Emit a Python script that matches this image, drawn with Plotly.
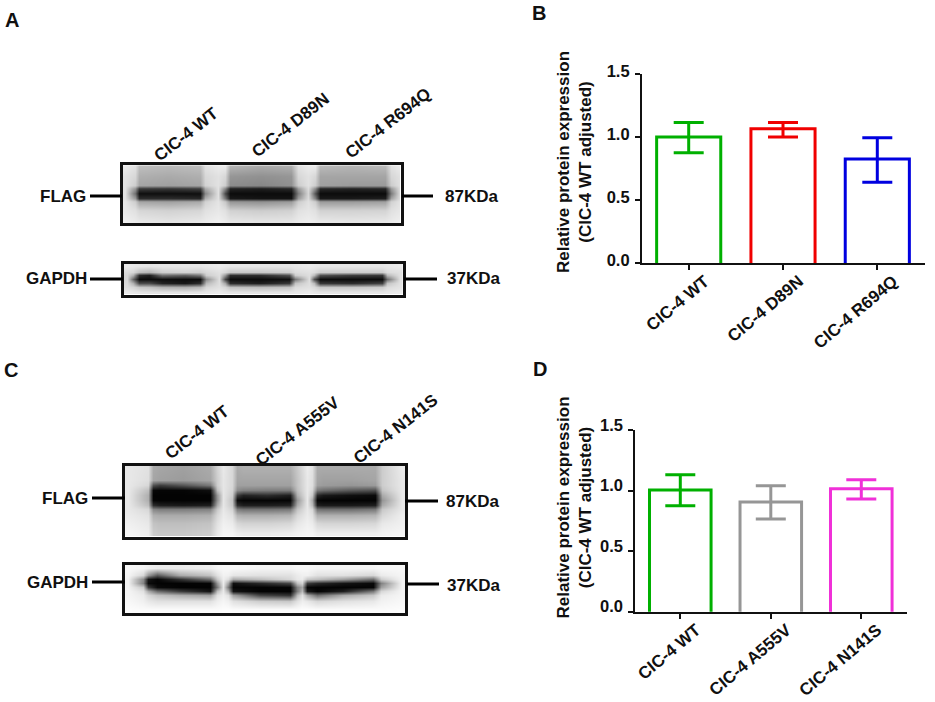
import plotly.graph_objects as go

W, H = 935, 702
FONT = "Liberation Sans"

# ---------- bar data ----------
cats_b = ["CIC-4 WT", "CIC-4 D89N", "CIC-4 R694Q"]
vals_b = [1.0, 1.065, 0.825]
hi_b = [1.115, 1.115, 0.995]
lo_b = [0.875, 1.0, 0.64]
cols_b = ["#00b000", "#f00000", "#0000e0"]

cats_d = ["CIC-4 WT", "CIC-4 A555V", "CIC-4 N141S"]
vals_d = [1.005, 0.905, 1.015]
hi_d = [1.13, 1.04, 1.09]
lo_d = [0.875, 0.765, 0.93]
cols_d = ["#00b000", "#969696", "#f030d8"]

y_ticks = [0.0, 0.5, 1.0, 1.5]
y_title = "Relative protein expression<br>(CIC-4 WT adjusted)"

# ---------- blot grey levels ----------
a_flag_x = [20, 50, 62, 150, 245, 262, 300, 320, 335, 430, 520, 540, 570, 590, 605, 700, 800, 818, 845]
a_flag_y = [20, 50, 75, 86, 100, 114, 125, 150, 185]
a_flag_z = [
    [235, 225, 190, 185, 190, 225, 235, 235, 180, 170, 175, 225, 235, 235, 185, 180, 185, 225, 235],
    [225, 215, 175, 170, 175, 215, 225, 215, 150, 145, 150, 215, 225, 215, 165, 165, 165, 215, 225],
    [225, 205, 165, 160, 165, 210, 225, 205, 140, 135, 145, 205, 225, 205, 160, 155, 155, 205, 225],
    [225, 150, 60, 55, 65, 170, 225, 135, 35, 30, 40, 155, 220, 140, 40, 35, 40, 155, 225],
    [225, 110, 15, 15, 15, 135, 225, 75, 12, 12, 12, 125, 215, 85, 12, 12, 12, 125, 225],
    [225, 155, 45, 45, 40, 175, 225, 120, 25, 20, 20, 155, 220, 130, 25, 25, 30, 165, 225],
    [230, 205, 165, 160, 170, 210, 228, 200, 150, 145, 155, 205, 225, 205, 155, 155, 160, 210, 228],
    [232, 225, 215, 210, 215, 225, 232, 225, 210, 205, 210, 225, 230, 225, 210, 210, 212, 225, 232],
    [240, 235, 232, 228, 232, 235, 240, 235, 230, 228, 230, 235, 238, 235, 232, 230, 232, 235, 240],
]

a_gapdh_x = [25, 42, 60, 90, 130, 200, 245, 262, 300, 318, 335, 420, 510, 530, 570, 585, 605, 700, 790, 805, 845]
a_gapdh_y = [22, 40, 50, 62, 74, 85, 100]
a_gapdh_z = [
    [235, 232, 230, 228, 230, 230, 230, 232, 235, 232, 230, 230, 230, 232, 235, 232, 230, 230, 230, 232, 235],
    [220, 215, 190, 180, 205, 210, 205, 215, 225, 215, 200, 200, 205, 220, 225, 220, 205, 205, 205, 220, 225],
    [215, 175, 45, 30, 110, 95, 120, 205, 222, 150, 45, 45, 80, 205, 222, 185, 80, 60, 55, 185, 225],
    [215, 100, 12, 12, 15, 12, 12, 140, 222, 70, 12, 12, 15, 120, 222, 80, 12, 12, 12, 110, 225],
    [218, 175, 75, 75, 35, 22, 45, 185, 222, 165, 45, 30, 55, 195, 222, 185, 55, 45, 65, 195, 225],
    [222, 215, 200, 195, 180, 175, 185, 215, 225, 215, 195, 190, 195, 220, 225, 218, 200, 200, 205, 220, 228],
    [235, 232, 230, 228, 228, 228, 230, 232, 236, 232, 230, 230, 230, 232, 236, 232, 230, 230, 230, 232, 236],
]

c_flag_x = [25, 85, 100, 120, 190, 270, 290, 310, 335, 350, 370, 440, 510, 530, 560, 575, 590, 610, 690, 765, 785, 845]
c_flag_y = [25, 60, 75, 90, 105, 120, 135, 148, 165, 190, 220]
c_flag_z = [
    [232, 225, 170, 165, 160, 170, 210, 232, 215, 170, 175, 175, 175, 200, 235, 225, 170, 170, 170, 170, 205, 235],
    [232, 222, 165, 160, 155, 165, 205, 230, 215, 165, 165, 165, 165, 195, 232, 222, 165, 160, 160, 165, 205, 232],
    [232, 215, 80, 60, 85, 120, 205, 230, 215, 160, 160, 160, 160, 195, 232, 222, 160, 155, 150, 155, 205, 232],
    [232, 190, 8, 5, 5, 15, 190, 230, 212, 140, 130, 125, 125, 190, 232, 215, 120, 110, 90, 80, 195, 232],
    [232, 175, 3, 3, 3, 3, 150, 230, 205, 60, 35, 45, 30, 175, 232, 200, 40, 25, 15, 10, 170, 232],
    [232, 175, 5, 3, 3, 3, 145, 230, 195, 10, 5, 5, 5, 150, 232, 170, 5, 3, 3, 3, 150, 232],
    [232, 190, 45, 30, 25, 30, 170, 230, 200, 45, 30, 30, 35, 170, 232, 185, 30, 25, 25, 30, 170, 232],
    [232, 215, 135, 125, 125, 130, 200, 232, 212, 125, 115, 115, 120, 195, 232, 215, 115, 110, 110, 120, 200, 232],
    [235, 225, 175, 170, 170, 175, 215, 235, 225, 180, 175, 175, 180, 215, 235, 225, 175, 175, 175, 180, 215, 238],
    [240, 232, 195, 190, 190, 195, 225, 240, 235, 215, 210, 210, 215, 230, 240, 235, 215, 212, 212, 215, 232, 240],
    [245, 238, 205, 200, 200, 205, 232, 245, 245, 238, 235, 235, 238, 242, 245, 245, 238, 238, 238, 238, 242, 245],
]

c_gapdh_x = [25, 70, 85, 110, 180, 270, 290, 310, 325, 340, 420, 510, 530, 545, 562, 590, 670, 760, 782, 845]
c_gapdh_y = [25, 45, 58, 70, 82, 95, 108, 125, 150]
c_gapdh_z = [
    [248, 245, 240, 235, 235, 238, 245, 248, 248, 248, 245, 245, 248, 248, 248, 245, 245, 245, 248, 248],
    [245, 215, 150, 90, 170, 195, 225, 242, 240, 230, 225, 225, 235, 240, 240, 225, 225, 215, 235, 245],
    [242, 140, 20, 5, 50, 110, 200, 238, 222, 170, 190, 215, 232, 235, 200, 190, 160, 110, 205, 245],
    [242, 130, 10, 3, 3, 5, 150, 235, 165, 15, 40, 70, 190, 210, 60, 40, 20, 8, 130, 245],
    [242, 200, 60, 10, 3, 3, 120, 230, 120, 5, 3, 5, 130, 165, 5, 3, 3, 5, 160, 245],
    [245, 225, 170, 110, 60, 20, 190, 232, 175, 20, 3, 3, 125, 185, 25, 3, 30, 120, 215, 245],
    [245, 235, 215, 195, 175, 160, 225, 238, 225, 160, 70, 50, 185, 225, 170, 110, 170, 200, 235, 245],
    [248, 240, 232, 225, 225, 225, 238, 245, 240, 225, 205, 200, 225, 238, 232, 215, 225, 232, 242, 248],
    [252, 250, 250, 250, 250, 250, 250, 252, 252, 250, 250, 250, 250, 252, 252, 250, 250, 250, 250, 252],
]

BASE_DROP = 0.04  # bars start just under the axis, so only the axis shows along the baseline


def fx(p):
    return p / W


def fy(p):
    return 1 - p / H


fig = go.Figure()
annotations = []
shapes = []


def text(x, y, s, size=17, xanchor="center", angle=0):
    annotations.append(dict(
        x=fx(x), y=fy(y), xref="paper", yref="paper", text=s, showarrow=False,
        xanchor=xanchor, yanchor="middle", textangle=angle,
        font=dict(family=FONT, size=size, color="#101010", weight=700),
    ))


def seg(x0, x1, y):
    shapes.append(dict(type="line", xref="paper", yref="paper", x0=fx(x0), x1=fx(x1),
                       y0=fy(y), y1=fy(y), line=dict(color="#000000", width=3)))


def add_bars(n, cats, vals, hi, lo, cols, left, right, top, bottom, first_tick, step, xshift, yshift):
    xa, ya = f"xaxis{n}", f"yaxis{n}"
    fig.add_trace(go.Bar(
        x=cats, y=[v + BASE_DROP for v in vals], base=-BASE_DROP, width=0.68,
        xaxis=f"x{n}", yaxis=f"y{n}", cliponaxis=True,
        marker=dict(color="rgba(255,255,255,0)", line=dict(color=cols, width=3)),
        showlegend=False,
    ))
    for c, v, h, l, col in zip(cats, vals, hi, lo, cols):
        fig.add_trace(go.Scatter(
            x=[c], y=[v], mode="markers", marker=dict(size=1, opacity=0),
            xaxis=f"x{n}", yaxis=f"y{n}", showlegend=False,
            error_y=dict(type="data", symmetric=False, array=[h - v], arrayminus=[v - l],
                         color=col, thickness=3, width=15),
        ))
    r0 = (left - first_tick) / step
    r1 = (right - first_tick) / step
    fig.update_layout({
        xa: dict(domain=[fx(left), fx(right)], range=[r0, r1], anchor=f"y{n}", type="category",
                 categoryorder="array", categoryarray=cats,
                 showline=True, linecolor="#111111", linewidth=1.6, ticks="outside", ticklen=5,
                 tickwidth=1.6, tickcolor="#111111", showgrid=False, zeroline=False, tickangle=-40,
                 ticklabelshift=xshift, ticklabelstandoff=-5,
                 tickfont=dict(family=FONT, size=17, color="#101010", weight=700)),
        ya: dict(domain=[fy(bottom), fy(top)], range=[0, 1.5], anchor=f"x{n}",
                 tickvals=y_ticks, ticktext=[f"{t:.1f}" for t in y_ticks],
                 showline=True, linecolor="#111111", linewidth=1.6, ticks="outside", ticklen=5,
                 tickwidth=1.6, tickcolor="#111111", showgrid=False, zeroline=False,
                 ticklabelstandoff=2, ticklabelshift=yshift,
                 tickfont=dict(family=FONT, size=16.5, color="#101010", weight=700)),
    })


def add_blot(n, xs, ys, z, left, right, top, bottom, rx, ry):
    xa, ya = f"xaxis{n}", f"yaxis{n}"
    fig.add_trace(go.Heatmap(
        x=xs, y=ys, z=z, zmin=0, zmax=255, zsmooth="best", showscale=False,
        colorscale=[[0, "#000000"], [1, "#ffffff"]], xaxis=f"x{n}", yaxis=f"y{n}", hoverinfo="skip",
    ))
    frame = dict(showline=True, mirror=True, linecolor="#111111", linewidth=3.2,
                 showticklabels=False, ticks="", showgrid=False, zeroline=False)
    fig.update_layout({
        xa: dict(domain=[fx(left), fx(right)], range=rx, anchor=f"y{n}", **frame),
        ya: dict(domain=[fy(bottom), fy(top)], range=ry, anchor=f"x{n}", **frame),
    })


add_bars(1, cats_b, vals_b, hi_b, lo_b, cols_b, 641.7, 925, 74, 263, 688.7, 94.3, 16, -3)
add_bars(2, cats_d, vals_d, hi_d, lo_d, cols_d, 635, 907.3, 430, 611.7, 680.3, 90.5, 16, -5)

add_blot(3, a_flag_x, a_flag_y, a_flag_z, 123, 400.5, 165.3, 223.3, [15, 847], [190, 16])
add_blot(4, a_gapdh_x, a_gapdh_y, a_gapdh_z, 123.5, 402.5, 264, 295, [15, 852], [110, 15])
add_blot(5, c_flag_x, c_flag_y, c_flag_z, 125, 405, 466, 536.5, [15, 855], [230, 18])
add_blot(6, c_gapdh_x, c_gapdh_y, c_gapdh_z, 125, 405, 565, 612.5, [15, 855], [160, 15])

# panel letters
text(12, 20, "A", 20)
text(539, 13, "B", 20)
text(11, 370, "C", 20)
text(540, 369, "D", 20)

# y axis titles
text(574, 162, y_title, 17, angle=-90)
text(574, 507.5, y_title, 17, angle=-90)

# blot lane labels
for x, y, s in [(186, 134, cats_b[0]), (290, 125, cats_b[1]), (388, 124, cats_b[2]),
                (197, 432, cats_d[0]), (297, 431, cats_d[1]), (395, 429, cats_d[2])]:
    text(x, y, s, 17, angle=-38)

# blot side labels and connector lines
text(87.5, 196, "FLAG", 17, xanchor="right")
text(88.5, 279, "GAPDH", 17, xanchor="right")
text(443, 196, "87KDa", 17, xanchor="left")
text(444.5, 279, "37KDa", 17, xanchor="left")
text(89.5, 498, "FLAG", 17, xanchor="right")
text(90, 582, "GAPDH", 17, xanchor="right")
text(443.5, 501, "87KDa", 17, xanchor="left")
text(445, 585, "37KDa", 17, xanchor="left")

seg(90, 122, 196)
seg(402, 433, 196)
seg(90, 123, 279)
seg(404, 437, 279)
seg(92, 125, 498)
seg(405, 438, 501)
seg(92, 125, 582)
seg(407, 439, 584)

fig.update_layout(
    width=W, height=H, margin=dict(l=0, r=0, t=0, b=0, autoexpand=False),
    paper_bgcolor="white", plot_bgcolor="rgba(0,0,0,0)", showlegend=False,
    annotations=annotations, shapes=shapes,
)
fig.write_html("out.html", post_script="document.body.style.margin='0';", config={"displayModeBar": False})
